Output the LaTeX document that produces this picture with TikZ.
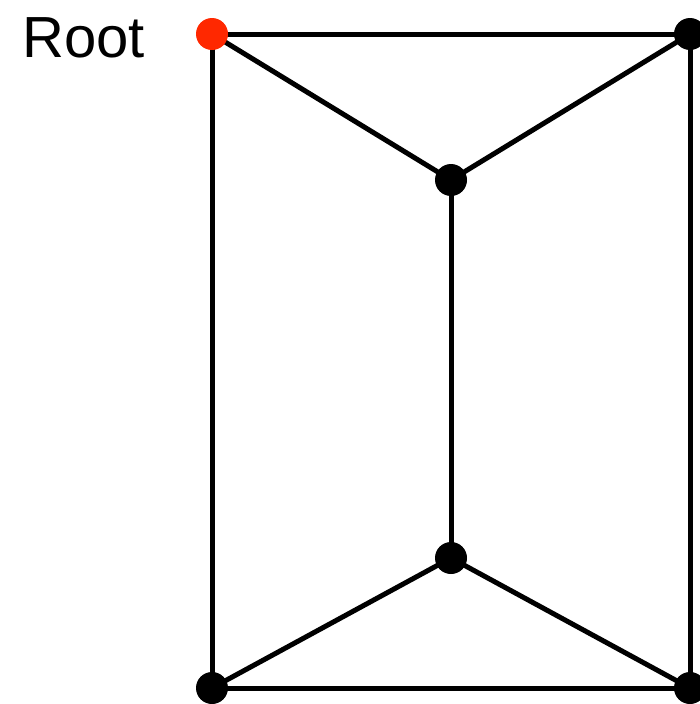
\documentclass[tikz,border=0pt]{standalone}
\usepackage{fontspec}
\setmainfont{Liberation Sans}
\usetikzlibrary{positioning, backgrounds}
\definecolor{RootRed}{RGB}{255,40,0}
\tikzset{
  vert/.style={circle, fill=black, inner sep=0pt, minimum size=32pt},
  rootvert/.style={vert, fill=RootRed},
  edge/.style={line width=5pt, black}
}

\begin{document}
\begin{tikzpicture}[x=1pt, y=-1pt]
  \useasboundingbox (0,0) rectangle (700,704);

  % Vertices
  \node[rootvert] (r) at (212, 34) {};
  \node[vert] (tr) at (690, 34) {};
  \node[vert] (mt) at (451, 180) {};
  \node[vert] (mb) at (451, 558) {};
  \node[vert] (bl) at (212, 688) {};
  \node[vert] (br) at (690, 688) {};

  % Edges
  \begin{scope}[on background layer]
    \draw[edge] (r.center) -- (tr.center);
    \draw[edge] (r.center) -- (mt.center);
    \draw[edge] (tr.center) -- (mt.center);
    \draw[edge] (mt.center) -- (mb.center);
    \draw[edge] (mb.center) -- (bl.center);
    \draw[edge] (mb.center) -- (br.center);
    \draw[edge] (bl.center) -- (br.center);
    \draw[edge] (r.center) -- (bl.center);
    \draw[edge] (tr.center) -- (br.center);
  \end{scope}

  % Label
  \node[font=\fontsize{58}{58}\selectfont, anchor=base west] (lbl) at (19, 57) {Root};
\end{tikzpicture}
\end{document}
